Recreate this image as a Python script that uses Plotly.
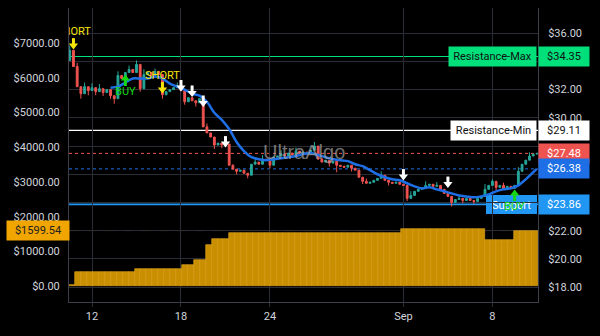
import pandas as pd
import plotly.graph_objects as go

# ---------------- data ----------------
candle_start = "2019-08-10 12:00"
candle_freq = "6h"
first_open = 34.07
candle_close = [
    34.79, 33.64, 32.21, 31.71, 32.21, 31.93, 32.14, 31.86, 32.07, 31.79,
    32.00, 31.57, 31.36, 33.00, 32.79, 33.21, 33.43, 33.21, 33.79, 32.07,
    33.07, 33.21, 33.00, 33.29, 33.07, 31.64, 31.86, 32.00, 32.14, 32.29,
    31.93, 31.14, 31.43, 31.21, 31.07, 31.36, 29.36, 28.93, 28.64, 28.07,
    28.21, 28.07, 28.14, 26.64, 26.36, 26.21, 26.29, 26.07, 25.93, 26.71,
    26.86, 26.71, 27.07, 27.00, 26.64, 27.21, 27.29, 27.43, 27.29, 27.50,
    27.36, 27.64, 27.50, 27.57, 27.43, 27.71, 28.00, 27.07, 26.86, 27.00,
    26.79, 26.93, 26.64, 26.57, 26.50, 26.64, 26.43, 26.29, 25.79, 25.50,
    25.36, 25.43, 25.57, 25.71, 25.93, 25.57, 25.43, 25.36, 25.43, 25.29,
    25.21, 24.29, 24.50, 24.79, 24.93, 25.00, 25.21, 25.29, 25.14, 25.21,
    24.93, 24.64, 24.43, 24.00, 24.21, 24.29, 24.14, 24.29, 24.14, 24.07,
    24.29, 24.43, 24.93, 25.21, 25.50, 25.07, 25.21, 24.93, 25.14, 25.00,
    25.21, 26.21, 26.71, 27.00, 27.29, 27.43, 27.48,
]
spike_high = {0: 35.14, 2: 33.90, 4: 32.50, 6: 32.45, 8: 32.40, 13: 33.30,
              16: 33.70, 18: 34.07, 20: 33.45, 23: 33.50, 29: 32.50, 37: 29.60,
              44: 26.70, 50: 27.20, 52: 27.35, 57: 27.70, 61: 27.90, 66: 28.29,
              68: 27.15, 80: 25.70, 84: 26.21, 92: 24.80, 96: 25.50, 99: 25.45,
              105: 24.50, 112: 25.30, 114: 25.64, 117: 25.40, 121: 26.50,
              124: 27.55}
spike_low = {3: 31.36, 5: 31.60, 7: 31.60, 9: 31.55, 11: 31.35, 12: 31.00,
             19: 31.86, 25: 31.36, 26: 31.60, 31: 30.93, 34: 30.80, 39: 27.79,
             41: 27.85, 45: 26.00, 48: 25.71, 54: 26.40, 70: 26.55, 72: 26.14,
             76: 26.20, 79: 25.30, 86: 25.20, 91: 24.10, 103: 23.71, 106: 23.95,
             109: 23.90, 115: 24.85}

ma_idx = [11, 13, 15, 17, 19, 21, 23, 25, 27, 29, 31, 33, 35, 37, 39, 41, 43,
          45, 47, 49, 51, 53, 55, 57, 59, 61, 63, 65, 67, 69, 71, 73, 75, 77,
          79, 81, 83, 85, 87, 89, 91, 93, 95, 97, 99, 101, 103, 105, 107, 109,
          111, 113, 115, 117, 119, 121, 123, 125, 126]
ma_value = [32.14, 32.21, 32.50, 32.79, 32.79, 32.79, 32.93, 32.79, 32.43,
            32.21, 32.00, 31.71, 31.57, 31.14, 30.36, 29.86, 29.21, 28.29,
            27.64, 27.21, 27.07, 27.00, 27.07, 27.14, 27.21, 27.29, 27.43,
            27.50, 27.36, 27.21, 27.07, 27.00, 26.93, 26.71, 26.57, 26.29,
            26.00, 25.79, 25.64, 25.57, 25.36, 25.14, 25.00, 25.07, 24.93,
            24.79, 24.64, 24.50, 24.43, 24.36, 24.43, 24.57, 24.79, 24.93,
            25.00, 25.21, 25.64, 26.14, 26.38]

equity_start = "2019-08-10 16:00"
equity_freq = "576min"
equity = ([17] * 1 + [404] * 10 + [490] * 8 + [606] * 2 + [750] * 2 +
          [1183] * 1 + [1356] * 3 + [1529] * 29 + [1644] * 14 +
          [1327] * 5 + [1599.54] * 4)

signal_idx = [1, 15, 25, 30, 33, 36, 42, 90, 102, 120]
signal_kind = ["SHORT", "BUY", "SHORT", "EXIT", "EXIT", "EXIT", "EXIT",
               "EXIT", "EXIT", "BUY"]
signal_price = [35.23, 32.68, 32.11, 32.26, 31.87, 31.16, 28.28, 25.94,
                25.41, 24.52]

resistance_max = 34.35
resistance_min = 29.11
support = 23.86

x_tick_dates = ["2019-08-12", "2019-08-18", "2019-08-24", "2019-09-02",
                "2019-09-08"]
x_tick_text = ["12", "18", "24", "Sep", "8"]
left_tick_vals = [0, 1000, 2000, 3000, 4000, 5000, 6000, 7000]
right_tick_vals = [18, 20, 22, 24, 26, 28, 30, 32, 34, 36]
right_tick_hidden = [24, 26, 28, 34]   # covered by the level labels

# ---------------- styling / geometry ----------------
W, H = 600, 336
ML, MR, MT, MB = 69, 62, 8, 34
PLOT_W = W - ML - MR
PLOT_H = H - MT - MB
Y2_RANGE = [16.94, 37.79]
Y1_RANGE = [-461.5, 8018]
X_RANGE = ["2019-08-10 10:47", "2019-09-11 01:47"]
PX2 = (Y2_RANGE[1] - Y2_RANGE[0]) / PLOT_H
FONT = "Roboto"
TXT = "#d1d4dc"
GRID = "#2a2d36"
AXIS = "#3c3f4a"
UP, DOWN = "#26a69a", "#ef5350"
GREEN_LBL = "#00e07a"
MA_BLUE = "#1e6fe6"
SUP_BLUE = "#2196f3"
GOLD = "#c88f00"
GOLD_LBL = "#f0a500"
SIG_COL = {"SHORT": "#f5e50a", "BUY": "#14d814", "EXIT": "#ffffff"}

# ---------------- derived ----------------
t_candle = pd.date_range(candle_start, periods=len(candle_close), freq=candle_freq)
opens = [first_open] + candle_close[:-1]
highs = [spike_high.get(i, max(o, c)) for i, (o, c) in enumerate(zip(opens, candle_close))]
lows = [spike_low.get(i, min(o, c)) for i, (o, c) in enumerate(zip(opens, candle_close))]
t_equity = pd.date_range(equity_start, periods=len(equity), freq=equity_freq)
bar_w = pd.Timedelta(equity_freq).total_seconds() * 1000

fig = go.Figure()

fig.add_trace(go.Bar(
    x=t_equity, y=equity, width=bar_w, yaxis="y",
    marker=dict(color=GOLD, line=dict(color="#e8aa22", width=0.6)),
    hoverinfo="skip", showlegend=False))

fig.add_trace(go.Candlestick(
    x=t_candle, open=opens, high=highs, low=lows, close=candle_close,
    yaxis="y2",
    increasing=dict(line=dict(color=UP, width=1), fillcolor=UP),
    decreasing=dict(line=dict(color=DOWN, width=1), fillcolor=DOWN),
    whiskerwidth=0, showlegend=False, hoverinfo="skip"))

fig.add_trace(go.Scatter(
    x=[t_candle[i] for i in ma_idx], y=ma_value, yaxis="y2", mode="lines",
    line=dict(color=MA_BLUE, width=2.5, shape="spline", smoothing=0.8),
    showlegend=False, hoverinfo="skip"))

# signals: arrows (shaft + head) and text
for kind in ["SHORT", "BUY", "EXIT"]:
    sel = [k for k, s in enumerate(signal_kind) if s == kind]
    xs = [t_candle[signal_idx[k]] for k in sel]
    ps = [signal_price[k] for k in sel]
    col = SIG_COL[kind]
    down = kind != "BUY"
    sgn = -1 if down else 1
    fig.add_trace(go.Scatter(
        x=xs, y=[p - sgn * 2.5 * PX2 for p in ps], yaxis="y2", mode="markers",
        marker=dict(symbol="line-ns", size=5, line=dict(color=col, width=3)),
        showlegend=False, hoverinfo="skip"))
    fig.add_trace(go.Scatter(
        x=xs, y=[p + sgn * 1.5 * PX2 for p in ps], yaxis="y2", mode="markers",
        marker=dict(symbol="triangle-down" if down else "triangle-up", size=8,
                    color=col, line=dict(width=0)),
        showlegend=False, hoverinfo="skip"))
    if kind != "EXIT":
        fig.add_trace(go.Scatter(
            x=xs, y=[p - sgn * 12 * PX2 for p in ps], yaxis="y2", mode="text",
            text=[kind] * len(xs), textposition="middle center",
            textfont=dict(color=col, size=11, family=FONT),
            cliponaxis=True, showlegend=False, hoverinfo="skip"))

# level lines
shapes = []
def hline(y, yref, color, width, dash="solid"):
    shapes.append(dict(type="line", xref="paper", x0=0, x1=1, yref=yref,
                       y0=y, y1=y, line=dict(color=color, width=width, dash=dash),
                       layer="between"))

hline(resistance_max, "y2", GREEN_LBL, 1.2)
hline(resistance_min, "y2", "#ffffff", 1.2)
hline(candle_close[-1], "y2", DOWN, 1, "dot")
hline(ma_value[-1], "y2", MA_BLUE, 1, "dot")
hline(support, "y2", SUP_BLUE, 1.6)
hline(equity[-1], "y", GOLD_LBL, 1, "dash")

# Support box inside the plot (drawn beneath the signals)
shapes.append(dict(type="rect", xref="paper", x0=1 - 52 / PLOT_W, x1=1 - 1 / PLOT_W,
                   yref="y2", y0=support - 9.5 * PX2, y1=support + 9.5 * PX2,
                   fillcolor=SUP_BLUE, line=dict(width=0), layer="between",
                   label=dict(text="Support", textposition="middle center",
                              font=dict(color="white", size=11, family=FONT))))

annotations = []
annotations.append(dict(text="UltraAlgo", xref="paper", yref="paper", x=0.5, y=0.51,
                        showarrow=False, font=dict(size=20, family="Liberation Sans",
                                                   color="rgba(165,165,165,0.7)")))

def line_label(text, y, bg, fg, width):
    annotations.append(dict(text=text, xref="paper", x=1, xanchor="right", xshift=-1,
                            yref="y2", y=y, showarrow=False, bgcolor=bg,
                            font=dict(color=fg, size=11, family=FONT),
                            width=width, height=13, borderpad=3))

def axis_label(y, bg, fg, yref="y2", side="right", width=44):
    annotations.append(dict(text="${:.2f}".format(y), xref="paper",
                            x=1 if side == "right" else 0,
                            xanchor="left" if side == "right" else "right",
                            xshift=0 if side == "right" else 1,
                            yref=yref, y=y, showarrow=False, bgcolor=bg,
                            font=dict(color=fg, size=11, family=FONT),
                            width=width, height=13, borderpad=3))

line_label("Resistance-Max", resistance_max, GREEN_LBL, "#111111", 81)
axis_label(resistance_max, GREEN_LBL, "#111111")
line_label("Resistance-Min", resistance_min, "#ffffff", "#111111", 79)
axis_label(resistance_min, "#ffffff", "#111111")
axis_label(candle_close[-1], DOWN, "#ffffff")
axis_label(ma_value[-1], MA_BLUE, "#ffffff")
axis_label(support, SUP_BLUE, "#ffffff")
axis_label(equity[-1], GOLD_LBL, "#222222", yref="y", side="left", width=56)

left_tick_text = ["${:.2f}".format(v) for v in left_tick_vals]
right_tick_text = ["" if v in right_tick_hidden else "${:.2f}".format(v)
                   for v in right_tick_vals]

fig.update_layout(
    width=W, height=H,
    margin=dict(l=ML, r=MR, t=MT, b=MB, pad=0),
    paper_bgcolor="#000000", plot_bgcolor="#000000",
    font=dict(family=FONT, size=11, color=TXT),
    showlegend=False, bargap=0,
    shapes=shapes, annotations=annotations,
    xaxis=dict(type="date", range=X_RANGE, tickvals=x_tick_dates, ticktext=x_tick_text,
               showgrid=True, gridcolor=GRID, gridwidth=1, showline=True,
               linecolor=AXIS, linewidth=1, ticks="outside", ticklen=4,
               tickcolor=GRID, zeroline=False, rangeslider=dict(visible=False),
               tickfont=dict(size=11, color=TXT)),
    yaxis=dict(range=Y1_RANGE, tickvals=left_tick_vals, ticktext=left_tick_text,
               showgrid=False, zeroline=False, showline=True,
               linecolor=AXIS, linewidth=1, ticks="outside", ticklen=6,
               tickcolor="rgba(0,0,0,0)", tickfont=dict(size=11, color=TXT)),
    yaxis2=dict(range=Y2_RANGE, overlaying="y", side="right",
                tickvals=right_tick_vals, ticktext=right_tick_text,
                showgrid=True, gridcolor=GRID,
                gridwidth=1, zeroline=False, showline=True, linecolor=AXIS,
                linewidth=1, ticks="outside", ticklen=7,
                tickcolor="rgba(0,0,0,0)", tickfont=dict(size=11, color=TXT)),
)

fig.write_html("out.html")
